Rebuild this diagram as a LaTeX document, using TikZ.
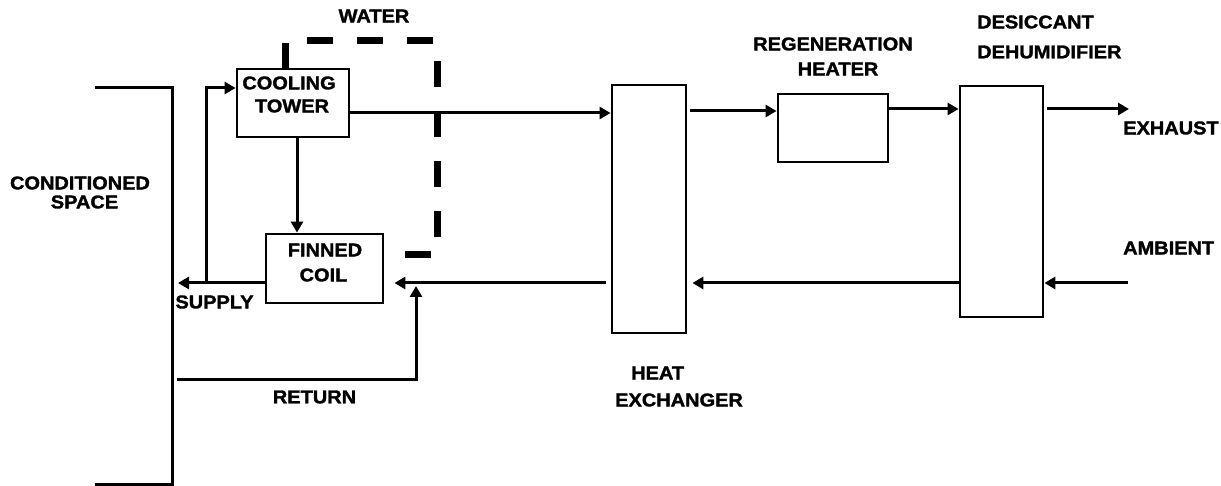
\documentclass[tikz,border=0pt]{standalone}
\usepackage{fontspec}
\newfontfamily\labfont[FakeStretch=1.08,FakeBold=1.6]{Liberation Sans}
\usetikzlibrary{arrows.meta}
\begin{document}
\begin{tikzpicture}[x=1pt,y=-1pt,
  box/.style={draw,line width=2.8pt,rectangle,inner sep=0pt},
  lab/.style={font=\labfont\bfseries\fontsize{18.5}{18.5}\selectfont,inner sep=0pt},
  flow/.style={line width=3pt},
  arr/.style={flow,-{Triangle[length=11pt,width=12pt]}},
  water/.style={line width=7pt,dash pattern=on 26pt off 24pt}]
\useasboundingbox (0,0) rectangle (1221,486);
% boxes
\node[box,minimum width=112pt,minimum height=68pt] (ct) at (293,103) {};
\node[box,minimum width=117pt,minimum height=69pt] (fc) at (324.5,268.5) {};
\node[box,minimum width=74pt,minimum height=248pt] (hx) at (649,209) {};
\node[box,minimum width=110pt,minimum height=68pt] (rh) at (833,128) {};
\node[box,minimum width=83pt,minimum height=231pt] (dd) at (1001.5,201.5) {};
% conditioned space bracket
\coordinate (cs1) at (95,88);
\coordinate (cs2) at (172,88);
\coordinate (cs3) at (172,484.5);
\coordinate (cs4) at (95,484.5);
\draw[flow] (cs1) -- (cs2) -- (cs3) -- (cs4);
% labels
\node[lab] (t1) at (80,183) {CONDITIONED};
\node[lab] (t2) at (84.5,202) {SPACE};
\node[lab] (t3) at (289,83) {COOLING};
\node[lab] (t4) at (292,106) {TOWER};
\node[lab] (t5) at (325,250) {FINNED};
\node[lab] (t6) at (323.5,275) {COIL};
\node[lab] (t7) at (214.5,302) {SUPPLY};
\node[lab] (t8) at (314.5,397) {RETURN};
\node[lab] (t9) at (374,16) {WATER};
\node[lab] (t10) at (833,44) {REGENERATION};
\node[lab] (t11) at (838,69) {HEATER};
\node[lab,anchor=west] (t12) at (977,22) {DESICCANT};
\node[lab,anchor=west] (t13) at (977,52) {DEHUMIDIFIER};
\node[lab,anchor=west] (t14) at (631,373) {HEAT};
\node[lab,anchor=west] (t15) at (615,400) {EXCHANGER};
\node[lab,anchor=west] (t16) at (1123,128) {EXHAUST};
\node[lab,anchor=west] (t17) at (1123,248) {AMBIENT};
% auxiliary coordinates
\coordinate (exh) at (1129,109);
\coordinate (amb) at (1128,283);
\coordinate (sj) at (206,283);
\coordinate (r0) at (177,379);
\coordinate (r1) at (416,379);
\coordinate (r2) at (416,286);
% connectors
\draw[arr] (ct.east |- 0,113) -- (hx.west |- 0,113);
\draw[arr] ([xshift=3pt]hx.east |- 0,111) -- (rh.west |- 0,111);
\draw[arr] (rh.east |- 0,109) -- (dd.west |- 0,109);
\draw[arr] ([xshift=3pt]dd.east |- exh) -- (exh);
\draw[arr] (amb) -- (dd.east |- amb);
\draw[arr] (dd.west |- amb) -- ([xshift=5pt]hx.east |- amb);
\draw[arr] ([xshift=-5pt]hx.west |- amb) -- ([xshift=10pt]fc.east |- amb);
\draw[arr] (fc.west |- amb) -- ([xshift=6pt]cs3 |- amb);
\draw[arr] (sj) -- (sj |- cs1) -- (ct.west |- cs1);
\draw[arr] (ct.south -| 297,0) -- (fc.north -| 297,0);
\draw[arr] (r0) -- (r1) -- (r2);
% water line
\coordinate (w0) at (285,69);
\coordinate (w1) at (285,41);
\coordinate (w2) at (437,41);
\coordinate (w3) at (437,255);
\coordinate (w4) at (400,255);
\draw[water] (w0) -- (w1) -- (w2) -- (w3) -- (w4);
\end{tikzpicture}
\end{document}
